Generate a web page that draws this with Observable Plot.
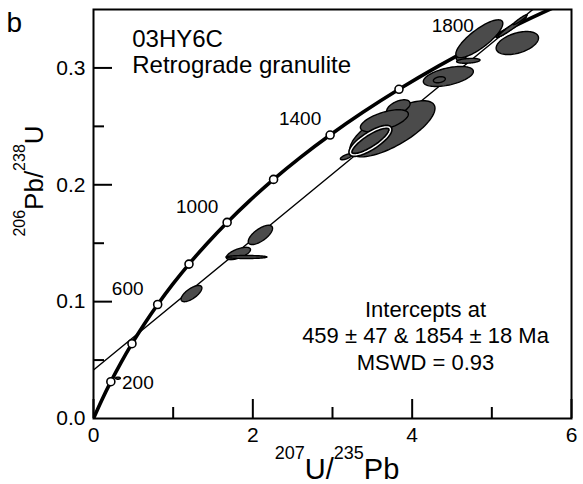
<!DOCTYPE html>
<html><head><meta charset="utf-8">
<script src="https://cdn.jsdelivr.net/npm/d3@7"></script>
<script src="https://cdn.jsdelivr.net/npm/@observablehq/plot@0.6"></script>
<style>body{margin:0;background:#fff;} svg{display:block}</style>
</head><body><div id="chart"></div>
<script>
// Concordia curve (age in Ma, 207Pb/235U, 206Pb/238U)
const concordiaAge = [0,100,200,300,400,500,600,700,800,900,1000,1100,1200,1300,1400,1500,1600,1700,1800,1900,2000];
const concordiaX = [0,0.1035,0.2177,0.3437,0.4828,0.6363,0.8056,0.9925,1.1987,1.4263,1.6774,1.9545,2.2603,2.5977,2.9701,3.3810,3.8344,4.3348,4.8867,5.4960,6.1685];
const concordiaY = [0,0.01563,0.03151,0.04764,0.06402,0.08065,0.09754,0.11470,0.13213,0.14983,0.16780,0.18606,0.20460,0.22343,0.24256,0.26198,0.28171,0.30175,0.32210,0.34277,0.36376];
const markerAges = [200,400,600,800,1000,1200,1400,1600,1800];
const labelAgesUpper = [600,1000,1400,1800];
const labelAgesLower = [200];

// Discordia (lower intercept 459 Ma, upper intercept 1854 Ma), end points
const discordiaX = [0, 5.7];
const discordiaY = [0.0415, 0.3604];

// Error ellipses: centre, half-width (x), half-height (y), correlation
const ellipseX   = [0.307, 1.230, 1.819, 1.920, 2.095, 3.174, 3.752, 3.827, 3.651, 3.476, 4.454, 4.341, 4.617, 4.705, 5.182, 5.257, 5.357, 4.843, 5.320];
const ellipseY   = [0.0345,0.1069,0.1412,0.1382,0.1571,0.2240,0.2479,0.2663,0.2548,0.2376,0.2927,0.2899,0.3079,0.3061,0.3319,0.3353,0.3413,0.3250,0.3213];
const ellipseHX  = [0.030, 0.1305,0.1516,0.257, 0.1525,0.075, 0.5345,0.147, 0.301, 0.251, 0.314, 0.075, 0.063, 0.147, 0.125, 0.176, 0.088, 0.295, 0.266];
const ellipseHY  = [0.0009,0.00694,0.00529,0.0013,0.00825,0.0026,0.0240,0.00643,0.00943,0.0120,0.00857,0.0026,0.0021,0.0021,0.0060,0.0086,0.0043,0.0162,0.00986];
const ellipseRho = [0, 0.69, 0.63, 0, 0.68, 0.7, 0.73, 0.5, 0.6, 0.8, 0.5, 0.3, 0, 0.3, 0.95, 0.97, 0.95, 0.81, 0.44];
const haloEllipse = 9;

const xMajor = [0,2,4,6], xMinor = [1,3,5];
const yMajor = [0.1,0.2,0.3], yMinor = [0.05,0.15,0.25];
const yTickLabels = [0,0.1,0.2,0.3];

const sampleText = "03HY6C\nRetrograde granulite";
const interceptText = "Intercepts at\n459 ± 47 & 1854 ± 18 Ma\nMSWD = 0.93";

// ---- build tables
const concordia = concordiaAge.map((t,i)=>({t, x:concordiaX[i], y:concordiaY[i]}));
const markers = concordia.filter(d=>markerAges.includes(d.t));
const labUp = concordia.filter(d=>labelAgesUpper.includes(d.t));
const labLow = concordia.filter(d=>labelAgesLower.includes(d.t));
const discordia = discordiaX.map((x,i)=>({x, y:discordiaY[i]}));
const ellipses = ellipseX.map((cx,i)=>({id:i, cx, cy:ellipseY[i], hx:ellipseHX[i], hy:ellipseHY[i], rho:ellipseRho[i]}));
function outline(e){
  const n=90, s=Math.sqrt(1-e.rho*e.rho);
  return d3.range(n).map(k=>{const a=2*Math.PI*k/n;
    return {id:e.id, x:e.cx+e.hx*Math.cos(a), y:e.cy+e.hy*(e.rho*Math.cos(a)+s*Math.sin(a))};});
}
const pts = ellipses.flatMap(outline);
const ptsA = pts.filter(d=>d.id<=haloEllipse);
const ptsHalo = pts.filter(d=>d.id===haloEllipse);
const ptsB = pts.filter(d=>d.id>haloEllipse);

const W=583,H=484,mL=93,mR=12,mT=9,mB=66;
const pw=W-mL-mR, ph=H-mT-mB;
const font="'Liberation Sans', Arial, Helvetica, sans-serif";
const fillGrey="#4b4b4b";
const ell = (data, extra={}) => Plot.line(data,{x:"x",y:"y",z:"id",fill:fillGrey,stroke:"black",strokeWidth:1.4,curve:"linear-closed",clip:true,...extra});

const chart = Plot.plot({
  width:W, height:H, marginLeft:mL, marginRight:mR, marginTop:mT, marginBottom:mB,
  x:{domain:[0,6]}, y:{domain:[0,0.35]},
  style:{fontFamily:font, fontSize:"21px", background:"white", color:"black"},
  marks:[
    Plot.line(discordia,{x:"x",y:"y",stroke:"black",strokeWidth:1.4,clip:true}),
    Plot.line(concordia,{x:"x",y:"y",stroke:"black",strokeWidth:3.6,curve:"catmull-rom",clip:true}),
    Plot.dot(markers,{x:"x",y:"y",r:4,fill:"white",stroke:"black",strokeWidth:1.6}),
    ell(ptsA),
    Plot.line(ptsHalo,{x:"x",y:"y",z:"id",stroke:"black",strokeWidth:4.6,curve:"linear-closed"}),
    Plot.line(ptsHalo,{x:"x",y:"y",z:"id",stroke:"white",strokeWidth:1.4,curve:"linear-closed"}),
    ell(ptsB),
    Plot.text(labLow,{x:"x",y:"y",text:d=>String(d.t),dx:27,dy:1,fontSize:19}),
    Plot.text(labUp,{x:"x",y:"y",text:d=>String(d.t),dx:-30,dy:-16,fontSize:19}),
    Plot.ruleX(xMajor,{insetTop:ph-19,strokeWidth:2}),
    Plot.ruleX(xMinor,{insetTop:ph-11,strokeWidth:2}),
    Plot.ruleY(yMajor,{insetRight:pw-19,strokeWidth:2}),
    Plot.ruleY(yMinor,{insetRight:pw-11,strokeWidth:2}),
    Plot.frame({stroke:"black",strokeWidth:2}),
    Plot.axisX({ticks:xMajor,tickSize:0,tickPadding:9,fontSize:21,label:null,tickFormat:d3.format("d")}),
    Plot.axisY({ticks:yTickLabels,tickSize:0,tickPadding:8,fontSize:21,label:null,tickFormat:d3.format(".1f")}),
    Plot.text([sampleText],{text:d=>d,frameAnchor:"top-left",dx:38.7,dy:19.3,textAnchor:"start",lineAnchor:"top",fontSize:24,lineHeight:1.08}),
    Plot.text([interceptText],{text:d=>d,frameAnchor:"top-left",dx:332,dy:288,textAnchor:"middle",lineAnchor:"top",fontSize:22,lineHeight:1.22}),
    Plot.text(["b"],{text:d=>d,frameAnchor:"top-left",dx:-87,dy:3,textAnchor:"start",lineAnchor:"top",fontSize:28})
  ]
});
document.getElementById("chart").appendChild(chart);

// Axis titles with superscripts
const svg = d3.select(chart);
function richTitle(g, parts, main, sup, raise){
  const t = g.append("text").attr("text-anchor","middle").attr("fill","black").style("font-family",font);
  let up=false;
  parts.forEach(([s,isSup])=>{
    const ts=t.append("tspan").text(s).attr("font-size",isSup?sup:main);
    if(isSup && !up){ts.attr("dy",-raise); up=true;}
    else if(!isSup && up){ts.attr("dy",raise); up=false;}
  });
  return t;
}
richTitle(svg.append("g").attr("transform","translate(337,479)"),
  [["207",true],["U/",false],["235",true],["Pb",false]],29,18,20);
richTitle(svg.append("g").attr("transform","translate(43,181) rotate(-90)"),
  [["206",true],["Pb/",false],["238",true],["U",false]],26,16,18);
</script></body></html>
